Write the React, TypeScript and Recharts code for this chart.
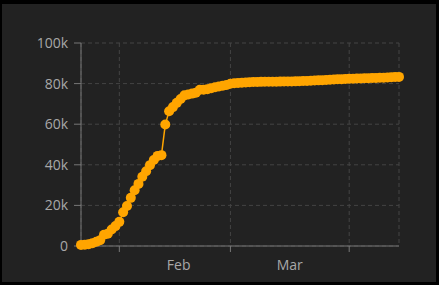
import { LineChart, Line, XAxis, YAxis, CartesianGrid } from 'recharts';

// days since Jan 22, one value per day
const confirmed = [
  548, 643, 920, 1406, 2075, 2877, 5509, 6087, 8141, 9802,
  11891, 16630, 19716, 23707, 27440, 30587, 34110, 36814, 39829, 42354,
  44386, 44759, 59895, 66358, 68413, 70513, 72434, 74211, 74619, 75077,
  75550, 77001, 77022, 77241, 77754, 78166, 78600, 78928, 79356, 79932,
  80136, 80261, 80386, 80537, 80690, 80770, 80823, 80860, 80887, 80921,
  80932, 80945, 80977, 81003, 81033, 81058, 81102, 81156, 81250, 81305,
  81435, 81498, 81591, 81661, 81782, 81897, 81999, 82122, 82198, 82279,
  82361, 82432, 82511, 82543, 82602, 82665, 82718, 82809, 82883, 82941,
  83014, 83134, 83213, 83306,
];

const monthStarts = [10, 39, 70];
const monthLabelDays = [25.5, 54.5];
const monthLabels = ['Feb', 'Mar'];
const yTicks = [0, 20000, 40000, 60000, 80000, 100000];

const data = confirmed.map((v, i) => ({ day: i, value: v }));

const axisColor = '#777';
const textColor = '#a8a8a8';

function MonthLabel(props: any) {
  const { x, y, payload } = props;
  const idx = monthLabelDays.indexOf(payload.value);
  return (
    <text x={x} y={y} dy={10} textAnchor="middle" fill={textColor} fontSize={14}>
      {monthLabels[idx]}
    </text>
  );
}

export default function App() {
  return (
    <div style={{ background: '#000', width: 439, height: 285, position: 'absolute', left: 0, top: 0 }}>
      <div style={{ position: 'absolute', left: 2, top: 4, width: 434, height: 278, background: '#222' }}>
        <LineChart
          width={434}
          height={278}
          data={data}
          margin={{ top: 39, right: 37, bottom: 0, left: 0 }}
          style={{ fontFamily: '"Open Sans", sans-serif' }}
        >
          <CartesianGrid stroke="#444" strokeDasharray="4 3" />
          <XAxis
            dataKey="day"
            type="number"
            domain={[0, 83]}
            ticks={monthStarts}
            tickFormatter={() => ''}
            stroke={axisColor}
            tickSize={6}
            height={6}
          />
          <XAxis
            xAxisId="lbl"
            dataKey="day"
            type="number"
            domain={[0, 83]}
            ticks={monthLabelDays}
            axisLine={false}
            tickLine={false}
            tick={<MonthLabel />}
            height={30}
          />
          <YAxis
            domain={[0, 100000]}
            ticks={yTicks}
            tickFormatter={(v: number) => (v === 0 ? '0' : v / 1000 + 'k')}
            stroke={axisColor}
            tick={{ fill: textColor, fontSize: 14 }}
            tickSize={7}
            tickMargin={6}
            width={79}
          />
          <Line
            dataKey="value"
            stroke="#ffa500"
            strokeWidth={1.5}
            dot={{ r: 5, fill: '#ffa500', stroke: 'none' }}
            isAnimationActive={false}
          />
        </LineChart>
      </div>
    </div>
  );
}
